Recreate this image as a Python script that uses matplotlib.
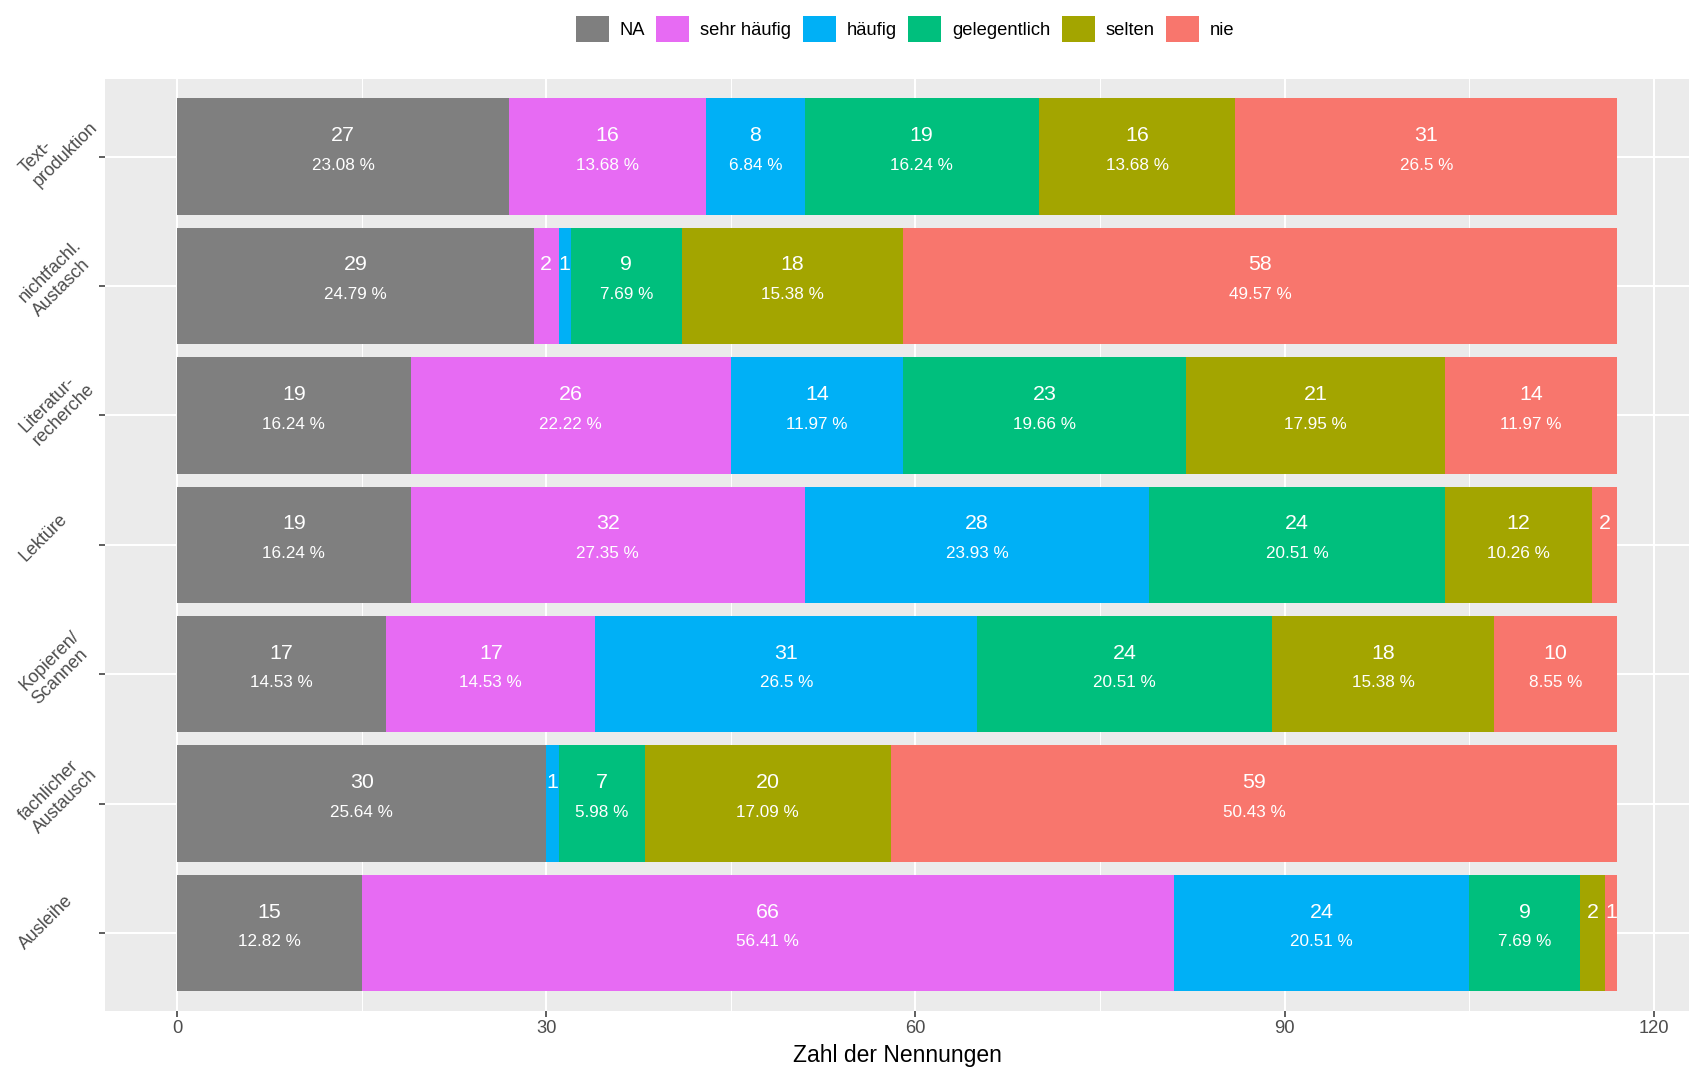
import numpy as np
import matplotlib
matplotlib.use("Agg")
import matplotlib.pyplot as plt
import matplotlib.patches as patches
import matplotlib.transforms as mtransforms

plt.rcParams["font.family"] = ["Liberation Sans", "DejaVu Sans"]

# - - - - - - - - data - - - - - - - - #
categories = ["Text-\nproduktion", "nichtfachl.\nAustasch", "Literatur-\nrecherche",
              "Lektüre", "Kopieren/\nScannen", "fachlicher\nAustausch", "Ausleihe"]
levels = ["NA", "sehr häufig", "häufig", "gelegentlich", "selten", "nie"]
colors = ["#7F7F7F", "#E76BF3", "#00B0F6", "#00BF7D", "#A3A500", "#F8766D"]

na = [27, 29, 19, 19, 17, 30, 15]
sehr_haeufig = [16, 2, 26, 32, 17, 0, 66]
haeufig = [8, 1, 14, 28, 31, 1, 24]
gelegentlich = [19, 9, 23, 24, 24, 7, 9]
selten = [16, 18, 21, 12, 18, 20, 2]
nie = [31, 58, 14, 2, 10, 59, 1]

x_ticks = [0, 30, 60, 90, 120]
x_label = "Zahl der Nennungen"

# - - - - - - - - figure - - - - - - - - #
W, H = 1689, 1068
fig = plt.figure(figsize=(W / 100, H / 100), dpi=100)
ax = fig.add_axes([105 / W, 1 - 1010.7 / H, 1 - 105 / W, (1010.7 - 79) / H])
ax.set_facecolor("#EBEBEB")
for s in ax.spines.values():
    s.set_visible(False)

series = [na, sehr_haeufig, haeufig, gelegentlich, selten, nie]
n = len(categories)
ypos = np.arange(n, 0, -1)  # top row first
totals = np.sum(np.array(series), axis=0)

left = np.zeros(n)
for vals, lev, col in zip(series, levels, colors):
    vals = np.array(vals, dtype=float)
    ax.barh(ypos, vals, left=left, height=0.9, color=col, label=lev, zorder=3)
    for y, l, v, t in zip(ypos, left, vals, totals):
        if v <= 0:
            continue
        xc = l + v / 2
        ax.annotate(f"{int(v)}", xy=(xc, y), xytext=(0, 11.2), textcoords="offset points",
                    ha="center", va="baseline", color="white", fontsize=15.4, zorder=4)
        if v >= 5:
            pct = round(v / t * 100, 2)
            ax.annotate(f"{pct:g} %", xy=(xc, y), xytext=(0, -9.4), textcoords="offset points",
                        ha="center", va="baseline", color="white", fontsize=12.3, zorder=4)
    left += vals

# - - - - - - - - axes - - - - - - - - #
ax.set_xlim(-0.05 * 117, 117 * 1.05)
ax.set_ylim(0.4, n + 0.6)
ax.set_xticks(x_ticks)
ax.set_xticks([15, 45, 75, 105], minor=True)
ax.set_yticks(ypos)
ax.set_yticklabels([""] * n)
ax.grid(which="major", color="white", linewidth=1.5, zorder=1)
ax.grid(which="minor", axis="x", color="white", linewidth=0.75, zorder=1)
ax.tick_params(which="major", length=4, width=1.1, color="#333333",
               labelsize=13.2, labelcolor="#4D4D4D", pad=3)
ax.tick_params(which="minor", length=0)
ax.set_xlabel(x_label, fontsize=16.5, labelpad=5)

# rotated category labels, first line start kept at the same place
off = mtransforms.ScaledTranslation(16 / 100, -8 / 100, fig.dpi_scale_trans)
for y, lab in zip(ypos, categories):
    ax.text(-105 / (W - 105), y, lab, transform=ax.get_yaxis_transform() + off,
            rotation=45, rotation_mode="anchor", ha="left", va="top",
            multialignment="left", linespacing=1.15, fontsize=12.9, color="#4D4D4D")

# - - - - - - - - legend - - - - - - - - #
handles = [patches.Patch(facecolor=c, edgecolor="none", label=l) for l, c in zip(levels, colors)]
fig.legend(handles=handles, loc="center", bbox_to_anchor=(905 / W, 1 - 28.8 / H), ncol=6,
           frameon=False, fontsize=13.2, handlelength=1.8, handleheight=1.8,
           handletextpad=0.58, columnspacing=0.64, borderpad=0)

fig.savefig("out.png", dpi=100)
